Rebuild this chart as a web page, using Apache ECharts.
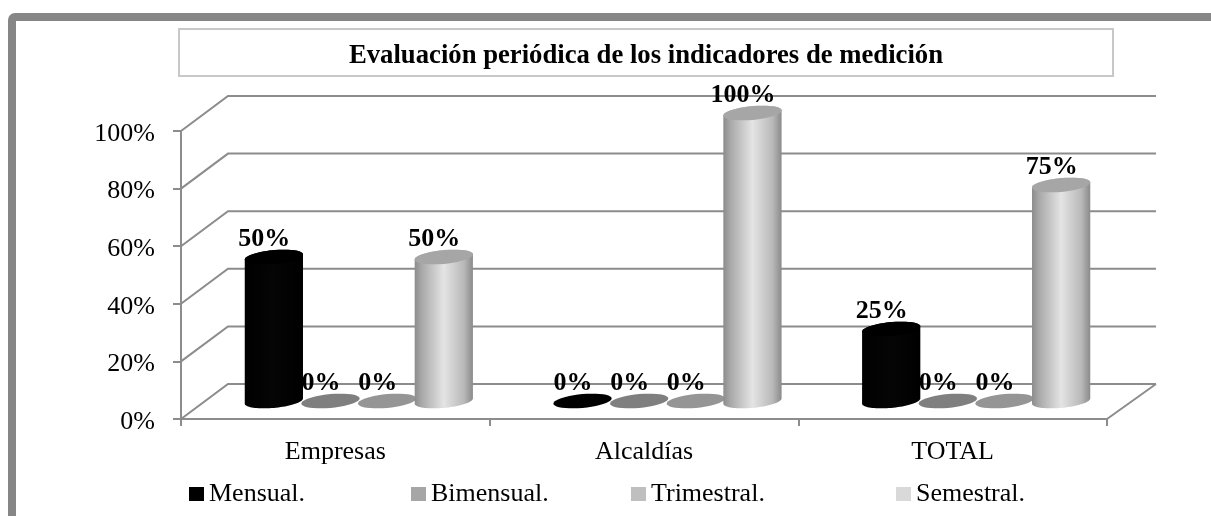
<!DOCTYPE html>
<html>
<head>
<meta charset="utf-8">
<style>html,body{margin:0;padding:0;background:#fff}#c{width:1211px;height:516px}</style>
<script src="https://cdn.jsdelivr.net/npm/echarts@6/dist/echarts.min.js"></script>
</head>
<body>
<div id="c"></div>
<script>
const titleText = 'Evaluación periódica de los indicadores de medición';
const categories = ['Empresas', 'Alcaldías', 'TOTAL'];
const seriesNames = ['Mensual.', 'Bimensual.', 'Trimestral.', 'Semestral.'];
const mensual = [0.50, 0, 0.25];
const bimensual = [0, 0, 0];
const trimestral = [0, 0, 0];
const semestral = [0.50, 1.00, 0.75];
const yTicks = [0, 0.2, 0.4, 0.6, 0.8, 1];
const seriesValues = [mensual, bimensual, trimestral, semestral];

const SERIF = '"Liberation Serif","Times New Roman",serif';
const DX = 47, DY = -35;
const legendColors = ['#000000', '#a6a6a6', '#bfbfbf', '#d9d9d9'];
const capColors = ['#000000', '#7f7f7f', '#959595', '#a6a6a6'];
const sideStops = [
  [[0, '#000'], [0.5, '#050505'], [1, '#000']],
  [[0, '#555'], [0.5, '#a0a0a0'], [1, '#555']],
  [[0, '#666'], [0.5, '#b8b8b8'], [1, '#666']],
  [[0, '#8c8c8c'], [0.12, '#a8a8a8'], [0.5, '#e4e4e4'], [0.85, '#b8b8b8'], [1, '#8a8a8a']]
];
const legendLefts = [189, 411, 631, 896];

function barCentre(api, cat, val, sIdx) {
  const p = api.coord([cat, val]);
  const band = api.size([1, 0])[0];
  const w = band * 0.1835;
  return { x: p[0] + DX / 2 + (sIdx - 1.5) * w, y: p[1] + DY / 2 - 0.5, rx: w / 2 + 0.8 };
}
function arc(c, from, to) {
  const pts = [], ry = 6.9, k = 2.6, n = 40;
  for (let i = 0; i <= n; i++) {
    const t = from + (to - from) * i / n;
    pts.push([c.x + c.rx * Math.cos(t), c.y + ry * Math.sin(t) - k * Math.cos(t)]);
  }
  return pts;
}
function cylinder(sIdx) {
  return function (params, api) {
    const cat = api.value(0), val = api.value(1);
    const base = barCentre(api, cat, 0, sIdx);
    const top = barCentre(api, cat, val, sIdx);
    const children = [];
    if (val > 0) {
      const pts = arc(base, 0, Math.PI).concat(arc(top, Math.PI, 2 * Math.PI));
      children.push({
        type: 'polygon', shape: { points: pts },
        style: {
          fill: new echarts.graphic.LinearGradient(0, 0, 1, 0,
            sideStops[sIdx].map(s => ({ offset: s[0], color: s[1] })))
        }
      });
    }
    children.push({
      type: 'polygon', shape: { points: arc(top, 0, 2 * Math.PI) },
      style: { fill: capColors[sIdx] }
    });
    return { type: 'group', children };
  };
}
function dataLabel(sIdx) {
  return function (params, api) {
    const c = barCentre(api, api.value(0), api.value(1), sIdx);
    return {
      type: 'text',
      style: {
        text: Math.round(api.value(1) * 100) + '%',
        x: c.x - 9.5, y: c.y - 17.5, align: 'center', verticalAlign: 'middle',
        font: 'bold 26px ' + SERIF, fill: '#000'
      }
    };
  };
}
function gridLine(params, api) {
  const v = api.value(0);
  const band = api.size([1, 0])[0];
  const a = api.coord([0, v]);
  const left = a[0] - band / 2;
  const b = api.coord([categories.length - 1, v]);
  const right = b[0] + band / 2;
  const lineStyle = { stroke: '#8c8c8c', lineWidth: 2, fill: 'none' };
  const pts = [[left, a[1]], [left + DX, a[1] + DY], [right + DX + 2, a[1] + DY]];
  const children = [{ type: 'polyline', shape: { points: pts }, style: lineStyle }];
  if (v === 0) {
    children.push({
      type: 'polyline',
      shape: { points: [[right, a[1]], [right + DX + 2, a[1] + DY]] },
      style: lineStyle
    });
  }
  return { type: 'group', children };
}

const series = [{
  type: 'custom', name: 'rejilla', z: 1, silent: true,
  data: yTicks.map(v => [v]), encode: { y: 0 }, renderItem: gridLine
}];
seriesValues.forEach((vals, i) => {
  series.push({
    type: 'custom', name: 'etiqueta ' + seriesNames[i], z: 2,
    data: vals.map((v, c) => [c, v]), encode: { x: 0, y: 1 }, renderItem: dataLabel(i)
  });
});
seriesValues.forEach((vals, i) => {
  series.push({
    type: 'custom', name: seriesNames[i], z: 3,
    itemStyle: { color: legendColors[i] },
    data: vals.map((v, c) => [c, v]), encode: { x: 0, y: 1 }, renderItem: cylinder(i)
  });
});

const chart = echarts.init(document.getElementById('c'), null, { renderer: 'canvas' });
chart.setOption({
  animation: false,
  backgroundColor: '#fff',
  title: {
    text: titleText, left: 646, top: 41, textAlign: 'center',
    textStyle: { fontFamily: SERIF, fontWeight: 'bold', fontSize: 26.7, color: '#000', lineHeight: 30 },
    padding: 0
  },
  legend: seriesNames.map((n, i) => ({
    data: [n], left: legendLefts[i], top: 481, padding: 0, icon: 'rect',
    itemWidth: 15, itemHeight: 14, itemGap: 0,
    textStyle: { fontFamily: SERIF, fontSize: 26, color: '#000' },
    selectedMode: false
  })),
  grid: { left: 181, right: 104, top: 131, bottom: 97, containLabel: false },
  xAxis: {
    type: 'category', data: categories,
    axisLine: { lineStyle: { color: '#8c8c8c', width: 2 } },
    axisTick: { show: true, length: 7, lineStyle: { color: '#8c8c8c', width: 2 } },
    axisLabel: { fontFamily: SERIF, fontSize: 26, color: '#000', margin: 20 }
  },
  yAxis: {
    type: 'value', min: 0, max: 1, interval: 0.2,
    axisLine: { show: true, lineStyle: { color: '#8c8c8c', width: 2 } },
    axisTick: { show: true, length: 8, lineStyle: { color: '#8c8c8c', width: 2 } },
    splitLine: { show: false },
    axisLabel: {
      fontFamily: SERIF, fontSize: 26, color: '#000', margin: 26,
      verticalAlign: 'top', lineHeight: 6,
      formatter: v => Math.round(v * 100) + '%'
    }
  },
  graphic: [
    { type: 'rect', z: -10, silent: true, shape: { x: 12, y: 17, width: 1320, height: 640, r: 3 },
      style: { fill: '#fff', stroke: '#868686', lineWidth: 8 } },
    { type: 'rect', z: -9, silent: true, shape: { x: 179, y: 29, width: 934, height: 47 },
      style: { fill: '#fff', stroke: '#c8c8c8', lineWidth: 2 } }
  ],
  series
});
</script>
</body>
</html>
